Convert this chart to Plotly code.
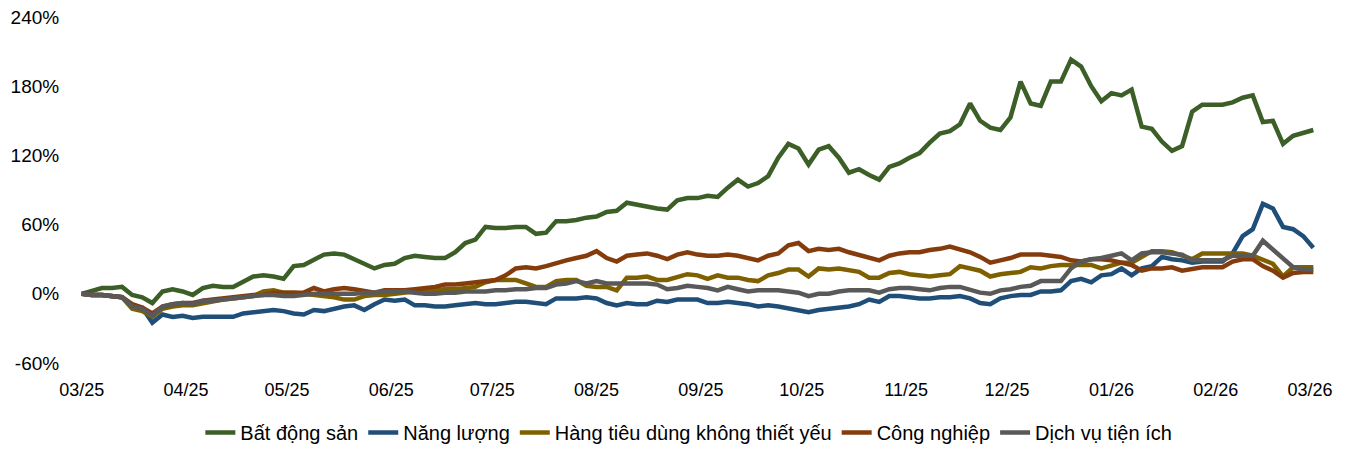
import pandas as pd
import plotly.graph_objects as go

start_date = "2025-03-13"
step = "3D"

bat_dong_san = [0, 3, 5, 5, 6, -1, -3, -8, 2, 4, 2, -1, 5, 7, 6, 6, 10, 15, 16, 15,
                13, 24, 25, 30, 34, 35, 34, 30, 26, 22, 25, 26, 31, 33, 32, 31, 31, 36, 44, 47,
                58, 57, 57, 58, 58, 52, 53, 63, 63, 64, 66, 67, 71, 72, 79, 77, 76, 74, 73, 81,
                83, 83, 85, 84, 92, 99, 93, 96, 102, 118, 130, 126, 112, 125, 128, 118, 105, 108, 103, 99,
                110, 113, 118, 122, 131, 139, 141, 147, 165, 150, 144, 142, 153, 184, 165, 163, 184, 184, 203, 197,
                180, 167, 174, 172, 177, 145, 143, 132, 124, 128, 158, 164, 164, 164, 166, 170, 172, 149, 150, 130,
                137, 140, 142]

nang_luong = [0, -1, -1, -2, -3, -10, -12, -25, -18, -20, -19, -21, -20, -20, -20, -20, -17, -16, -15, -14,
              -15, -17, -18, -14, -15, -13, -11, -10, -14, -9, -5, -6, -5, -10, -10, -11, -11, -10, -9, -8,
              -9, -9, -8, -7, -7, -8, -9, -4, -4, -4, -3, -4, -8, -10, -8, -9, -9, -6, -7, -5,
              -5, -5, -8, -8, -7, -8, -9, -11, -10, -11, -13, -15, -16, -14, -13, -12, -11, -9, -5, -7,
              -2, -2, -3, -4, -4, -3, -3, -2, -4, -8, -9, -4, -2, -1, -1, 2, 2, 3, 11, 13,
              10, 16, 17, 22, 16, 22, 24, 32, 30, 29, 27, 28, 28, 28, 35, 50, 56, 78, 74, 58,
              56, 50, 40]

hang_tieu_dung = [0, -1, -1, -2, -3, -13, -15, -20, -13, -11, -10, -10, -8, -7, -5, -4, -3, -2, 2, 3,
                  1, 1, 0, -1, -2, -3, -5, -5, -2, -1, -1, 0, 1, 2, 3, 3, 4, 4, 5, 6,
                  10, 12, 12, 12, 9, 6, 6, 11, 12, 12, 7, 6, 6, 3, 14, 14, 15, 12, 12, 15,
                  17, 16, 13, 16, 14, 14, 12, 11, 16, 18, 21, 21, 15, 22, 21, 22, 20, 19, 14, 14,
                  18, 19, 17, 16, 15, 16, 17, 24, 22, 20, 15, 17, 18, 19, 23, 22, 24, 25, 25, 25,
                  25, 22, 25, 27, 27, 32, 37, 37, 36, 33, 30, 35, 35, 35, 35, 35, 33, 30, 26, 15,
                  23, 23, 23]

cong_nghiep = [0, -1, -1, -2, -3, -9, -12, -17, -11, -9, -8, -8, -6, -5, -4, -3, -2, -1, -1, 1,
               1, 1, 1, 5, 2, 4, 5, 4, 2, 1, 3, 3, 3, 4, 5, 6, 8, 8, 9, 10,
               11, 12, 16, 22, 23, 22, 24, 27, 29, 31, 33, 37, 31, 28, 33, 34, 35, 33, 30, 34,
               36, 34, 33, 33, 34, 33, 31, 29, 33, 35, 42, 44, 37, 39, 38, 39, 36, 34, 32, 29,
               33, 35, 36, 36, 38, 39, 41, 39, 36, 32, 27, 29, 31, 34, 34, 34, 33, 32, 29, 28,
               30, 30, 29, 27, 25, 20, 22, 22, 23, 20, 22, 23, 23, 23, 28, 30, 30, 24, 20, 14,
               18, 19, 19]

dich_vu_tien_ich = [0, -1, -1, -2, -3, -11, -13, -19, -11, -9, -8, -9, -6, -6, -5, -4, -3, -2, -1, -1,
                    -2, -2, -1, 0, 0, 0, 0, 0, 1, 1, 2, 2, 2, 1, 0, 0, 1, 1, 2, 2,
                    2, 3, 3, 4, 4, 5, 5, 8, 9, 11, 9, 11, 9, 9, 9, 9, 9, 8, 4, 5,
                    7, 6, 5, 3, 6, 4, 2, 3, 3, 3, 2, 1, -2, 0, 0, 2, 3, 3, 3, 1,
                    4, 5, 5, 4, 3, 5, 6, 6, 4, 1, 0, 3, 4, 6, 7, 11, 11, 11, 22, 28,
                    30, 31, 33, 35, 29, 35, 36, 36, 35, 34, 29, 29, 29, 29, 33, 33, 33, 46, 38, 30,
                    23, 21, 21]

series_names = ["Bất động sản", "Năng lượng", "Hàng tiêu dùng không thiết yếu",
                "Công nghiệp", "Dịch vụ tiện ích"]
series_values = [bat_dong_san, nang_luong, hang_tieu_dung, cong_nghiep, dich_vu_tien_ich]
colors = ["#3C5E27", "#1F4E79", "#7F6000", "#843C0C", "#595959"]

y_ticks = [-60, 0, 60, 120, 180, 240]
y_tick_labels = ["-60%", "0%", "60%", "120%", "180%", "240%"]

fig = go.Figure()
for name, vals, col in zip(series_names, series_values, colors):
    dates = pd.date_range(start_date, periods=len(vals), freq=step)
    fig.add_trace(go.Scatter(x=dates, y=vals, name=name, mode="lines",
                             line=dict(color=col, width=4.5)))

font_main = "Liberation Sans, Arial, sans-serif"
fig.update_layout(
    width=1347, height=455,
    margin=dict(l=72, r=40, t=9, b=100),
    paper_bgcolor="white", plot_bgcolor="white",
    font=dict(family=font_main, size=20, color="#000000"),
    showlegend=True,
    legend=dict(orientation="h", x=0.493, xanchor="center", y=-0.1445, yanchor="top",
                font=dict(size=20), itemwidth=30, traceorder="normal"),
)
fig.update_xaxes(type="date", range=["2025-03-12 12:00", "2026-03-14 12:00"],
                 tick0=start_date, dtick="M1", tickformat="%m/%y",
                 showgrid=False, zeroline=False, showline=False, automargin=False,
                 ticks="outside", ticklen=10, tickcolor="rgba(0,0,0,0)",
                 ticklabeloverflow="allow",
                 tickfont=dict(family=font_main, size=18))
fig.update_yaxes(range=[-60, 240], tickmode="array", tickvals=y_ticks, ticktext=y_tick_labels,
                 showgrid=False, zeroline=False, showline=False, automargin=False,
                 ticks="outside", ticklen=16, tickcolor="rgba(0,0,0,0)",
                 ticklabeloverflow="allow",
                 tickfont=dict(family=font_main, size=19))

fig.write_html("out.html")
